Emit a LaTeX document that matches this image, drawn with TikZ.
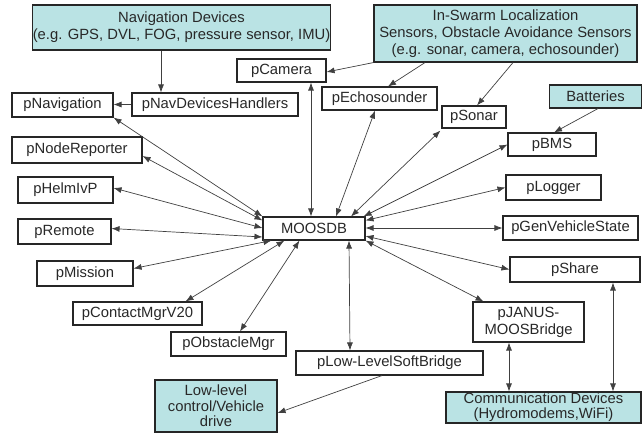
\documentclass[tikz,border=0pt]{standalone}
\usepackage{fontspec}
\setmainfont{Liberation Sans}
\usetikzlibrary{arrows.meta,calc}
\definecolor{teal1}{RGB}{186,227,228}
\definecolor{txt}{RGB}{40,40,40}
\begin{document}
\begin{tikzpicture}[x=1pt,y=-1pt,
  box/.style={draw=black!85,line width=1.1pt,fill=white,inner sep=0pt,align=center,text=txt,
     font=\fontsize{14.8}{17}\selectfont},
  dev/.style={box,fill=teal1},
  conn/.style={draw=black!75,line width=0.7pt},
  one/.style={conn,-{Latex[length=8pt,width=6pt]}},
  two/.style={conn,{Latex[length=8pt,width=6pt]}-{Latex[length=8pt,width=6pt]}}]
\useasboundingbox (0,0) rectangle (642,437);
% boxes
\node[dev,minimum width=283pt,minimum height=45pt] (nav) at (181.5,27.5) {Navigation Devices\\(e.g. GPS, DVL, FOG, pressure sensor, IMU)};
\node[dev,minimum width=263pt,minimum height=57pt] (swarm) at (505.5,33.5) {In-Swarm Localization\\Sensors, Obstacle Avoidance Sensors\\(e.g. sonar, camera, echosounder)};
\node[box,minimum width=89pt,minimum height=23pt] (cam) at (281.5,70.5) {pCamera};
\node[box,minimum width=101pt,minimum height=24pt] (pnav) at (62.5,105) {pNavigation};
\node[box,minimum width=166pt,minimum height=23pt] (hand) at (215,104.5) {pNavDevicesHandlers};
\node[box,minimum width=115pt,minimum height=23pt] (echo) at (379.5,98.5) {pEchosounder};
\node[box,minimum width=64pt,minimum height=22pt] (sonar) at (474,117) {pSonar};
\node[dev,minimum width=92pt,minimum height=23pt] (bat) at (595.5,96.5) {Batteries};
\node[box,minimum width=88pt,minimum height=23pt] (bms) at (552,144.5) {pBMS};
\node[box,minimum width=130pt,minimum height=26pt] (nrep) at (77,150) {pNodeReporter};
\node[box,minimum width=95pt,minimum height=26pt] (helm) at (65.5,190) {pHelmIvP};
\node[box,minimum width=93pt,minimum height=25pt] (remote) at (64.5,231.5) {pRemote};
\node[box,minimum width=96pt,minimum height=25pt] (mission) at (85,273.5) {pMission};
\node[box,minimum width=102pt,minimum height=23pt] (moos) at (314,228.5) {MOOSDB};
\node[box,minimum width=95pt,minimum height=25pt] (logger) at (553.5,187.5) {pLogger};
\node[box,minimum width=135pt,minimum height=24pt] (gen) at (570.5,228) {pGenVehicleState};
\node[box,minimum width=130pt,minimum height=25pt] (share) at (575,269.5) {pShare};
\node[box,minimum width=129pt,minimum height=23pt] (contact) at (137.5,313.5) {pContactMgrV20};
\node[box,minimum width=115pt,minimum height=24pt] (obst) at (228.5,344) {pObstacleMgr};
\node[box,minimum width=187pt,minimum height=24pt] (lows) at (389.5,363) {pLow-LevelSoftBridge};
\node[dev,minimum width=122pt,minimum height=52pt,font=\fontsize{14.8}{15.5}\selectfont] (lowc) at (216,406) {Low-level\\control/Vehicle\\drive};
\node[box,minimum width=111pt,minimum height=40pt] (janus) at (528.5,322) {pJANUS-\\MOOSBridge};
\node[dev,minimum width=195pt,minimum height=31pt,font=\fontsize{14.8}{15}\selectfont] (comm) at (543.5,407.5) {Communication Devices\\(Hydromodems,WiFi)};
% single arrows
\draw[one] ([xshift=-20.5pt]nav.south) -- ([xshift=-54pt]hand.north);
\draw[one] (hand.west) -- (hand.west -| pnav.east);
\draw[one] (swarm.south west) -- ([yshift=-1.5pt]cam.east);
\draw[one] ([xshift=-80.5pt]swarm.south) -- ([xshift=8.5pt]echo.north);
\draw[one] ([xshift=7.5pt]swarm.south) -- ([xshift=3pt]sonar.north);
\draw[one] ([xshift=2.5pt]bat.south) -- ([xshift=2pt]bms.north);
\draw[one] ([xshift=-7.5pt]lows.south) -- ([yshift=-7pt]lowc.east);
% double arrows to MOOSDB
\draw[two] (pnav.south east) -- (moos.north west);
\draw[two] ([yshift=-6pt]nrep.east) -- ([yshift=-4pt]moos.north west);
\draw[two] ([yshift=2pt]helm.east) -- ([yshift=0.5pt]moos.west);
\draw[two] ([yshift=3pt]remote.east) -- ([yshift=-8.5pt]moos.west);
\draw[two] ([yshift=5pt]mission.east) -- ([xshift=9pt]moos.south west);
\draw[two] ([xshift=48pt]contact.north) -- ([xshift=22pt]moos.south west);
\draw[two] ([xshift=11.5pt]obst.north) -- ([xshift=37pt]moos.south west);
\draw[two] ([xshift=29.5pt]cam.south) -- ([xshift=-3pt]moos.north);
\draw[two] ([xshift=-4.5pt]echo.south) -- ([xshift=22pt]moos.north);
\draw[two] ([xshift=-1pt,yshift=-2pt]sonar.south west) -- ([xshift=37pt]moos.north);
\draw[two] (bms.west) -- ([xshift=-2pt]moos.north east);
\draw[two] (logger.west) -- ([yshift=-4pt]moos.north east);
\draw[two] (gen.west) -- (gen.west -| moos.east);
\draw[two] (share.west) -- ([yshift=4.5pt]moos.south east);
\draw[two] ([xshift=-45pt]janus.north) -- (moos.south east);
\draw[two] ([xshift=35pt]moos.south) -- ([xshift=-39.5pt]lows.north);
% to communication devices
\draw[two] ([xshift=-19.5pt]janus.south) -- ([xshift=-19.5pt]janus.south |- comm.north);
\draw[two] ([xshift=38pt]share.south) -- ([xshift=38pt]share.south |- comm.north);
\end{tikzpicture}
\end{document}
